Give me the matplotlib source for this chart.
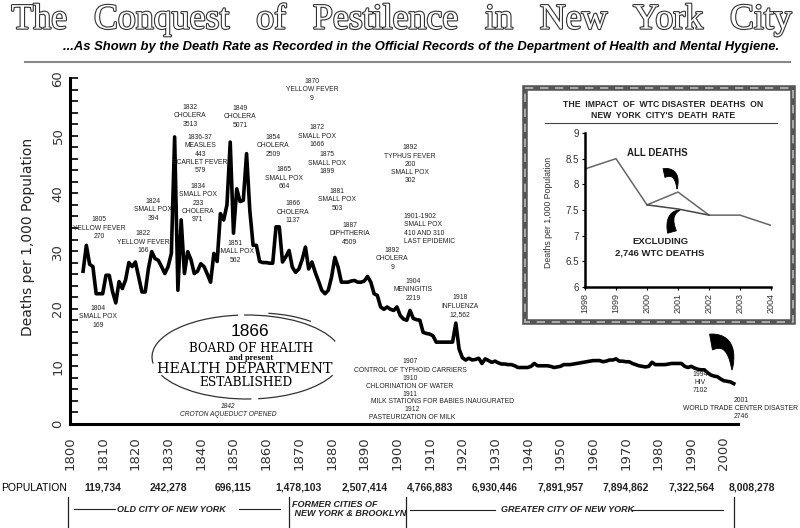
import matplotlib
matplotlib.use('Agg')
import numpy as np
import matplotlib.pyplot as plt
import matplotlib.patches as mpatches
import matplotlib.patheffects as pe
from matplotlib.transforms import blended_transform_factory

plt.rcParams['font.family'] = ['Liberation Sans', 'DejaVu Sans']

# ---- data ----
years = list(range(1804, 2004))
rates = [
    26.5, 31.0, 27.7, 27.3, 22.6, 22.6,                                # 1804-09
    22.6, 25.8, 25.8, 23.0, 21.0, 24.7, 23.5, 25.0, 28.0, 27.3,        # 1810s
    28.1, 25.5, 22.9, 22.9, 27.0, 29.9, 28.7, 28.4, 27.3, 26.1,        # 1820s
    27.3, 29.6, 49.8, 23.2, 35.4, 26.1, 29.9, 28.5, 26.1, 26.5,        # 1830s
    27.8, 27.3, 26.0, 24.6, 29.6, 28.2, 36.5, 35.4, 38.0, 48.9,        # 1840s
    33.1, 40.8, 38.6, 38.8, 46.9, 37.0, 31.0, 31.0, 28.2, 28.0,        # 1850s
    28.0, 27.9, 27.9, 34.2, 34.2, 28.1, 29.0, 30.1, 27.2, 26.3,        # 1860s
    26.9, 28.5, 30.7, 26.9, 28.1, 26.3, 24.8, 23.2, 22.6, 23.2,        # 1870s
    25.5, 28.9, 27.2, 24.6, 24.6, 24.6, 24.8, 24.9, 24.6, 24.6,        # 1880s
    24.8, 25.6, 24.6, 22.6, 22.3, 20.3, 19.9, 20.3, 19.9, 19.7,        # 1890s
    20.3, 18.8, 18.2, 18.0, 19.7, 18.3, 18.1, 18.0, 15.9, 15.7,        # 1900s
    15.6, 15.3, 14.2, 14.2, 14.2, 14.2, 14.2, 14.2, 17.5, 13.0,        # 1910s
    11.5, 11.1, 11.4, 11.1, 11.2, 11.4, 10.5, 11.3, 11.0, 10.7,        # 1920s
    10.9, 10.6, 10.4, 10.4, 10.3, 10.3, 10.1, 9.8, 9.8, 9.8,           # 1930s
    9.8, 10.0, 10.5, 10.1, 10.1, 10.1, 10.1, 10.0, 9.8, 9.9,           # 1940s
    10.0, 10.3, 10.3, 10.3, 10.4, 10.5, 10.6, 10.7, 10.8, 10.9,        # 1950s
    11.0, 11.0, 11.0, 10.8, 10.9, 11.1, 11.1, 11.3, 10.9, 10.9,        # 1960s
    10.8, 10.8, 10.5, 10.3, 10.1, 10.0, 9.9, 10.0, 10.7, 10.3,         # 1970s
    10.3, 10.3, 10.3, 10.4, 10.5, 10.5, 10.5, 10.5, 10.0, 9.8,         # 1980s
    10.0, 9.7, 9.5, 9.4, 9.4, 8.9, 8.5, 8.3, 8.2, 7.8,                 # 1990s
    7.5, 7.4, 7.3, 7.0,                                                # 2000s
]

tick_years = list(range(1800, 2001, 10))

pop_years = [1810, 1830, 1850, 1870, 1890, 1910, 1930, 1950, 1970, 1990, 2000]
pop_values = ['119,734', '242,278', '696,115', '1,478,103', '2,507,414',
              '4,766,883', '6,930,446', '7,891,957', '7,894,862', '7,322,564',
              '8,008,278']

events = [
    '1805\nYELLOW FEVER\n270',
    '1804\nSMALL POX\n169',
    '1822\nYELLOW FEVER\n166',
    '1824\nSMALL POX\n394',
    '1832\nCHOLERA\n3513',
    '1836-37\nMEASLES\n443\nSCARLET FEVER\n579',
    '1834\nSMALL POX\n233\nCHOLERA\n971',
    '1849\nCHOLERA\n5071',
    '1851\nSMALL POX\n562',
    '1854\nCHOLERA\n2509',
    '1865\nSMALL POX\n664',
    '1866\nCHOLERA\n1137',
    '1870\nYELLOW FEVER\n9',
    '1872\nSMALL POX\n1666',
    '1875\nSMALL POX\n1899',
    '1881\nSMALL POX\n503',
    '1887\nDIPHTHERIA\n4509',
    '1892\nTYPHUS FEVER\n200\nSMALL POX\n302',
    '1892\nCHOLERA\n9',
    '1904\nMENINGITIS\n2219',
    '1918\nINFLUENZA\n12,562',
    '1907\nCONTROL OF TYPHOID CARRIERS\n1910\nCHLORINATION OF WATER\n1911',
    'MILK STATIONS FOR BABIES INAUGURATED',
    '1912\nPASTEURIZATION OF MILK',
    '1994\nHIV\n7102',
    '2001\nWORLD TRADE CENTER DISASTER\n2746',
]
# label anchor (top centre) in data units
event_pos = [
    (1808.9, 36.0), (1808.6, 20.6), (1822.3, 33.6), (1825.4, 39.2),
    (1836.7, 55.5), (1839.8, 50.3), (1839.1, 41.8), (1852.0, 55.3),
    (1850.5, 31.9), (1862.1, 50.3), (1865.4, 44.7), (1868.2, 38.8),
    (1874.0, 60.0), (1875.5, 52.0), (1878.6, 47.3), (1881.7, 40.9),
    (1885.6, 35.0), (1904.0, 48.5), (1898.5, 30.7), (1904.9, 25.3),
    (1919.3, 22.5), (1904.0, 11.4), (1913.8, 4.5), (1904.6, 3.1),
    (1992.7, 9.2), (2005.2, 4.7),
]

# inset: WTC impact
wtc_years = [1998, 1999, 2000, 2001, 2002, 2003, 2004]
wtc_all = [8.3, 8.5, 7.6, 7.85, 7.4, 7.4, 7.2]
wtc_excl_years = [2000, 2001, 2002]
wtc_excl = [7.6, 7.52, 7.4]

# ---- figure ----
fig = plt.figure(figsize=(8, 5.28), dpi=100)

ax = fig.add_axes([0.0875, 0.197, 0.835, 0.655])
ax.plot(years, rates, color='black', lw=2.6, solid_joinstyle='round', zorder=3)
ax.set_xlim(1800, 2004.3)
ax.set_ylim(0, 60)
for s in ['top', 'right']:
    ax.spines[s].set_visible(False)
for s in ['left', 'bottom']:
    ax.spines[s].set_linewidth(2.2)
ax.set_xticks(tick_years)
ax.set_xticklabels([str(y) for y in tick_years], rotation=90, fontsize=9.5,
                   color='#333', family='DejaVu Sans')
ax.tick_params(axis='x', length=0, pad=9)
ax.set_yticks(range(0, 61, 10))
ax.set_yticks(range(0, 61, 2), minor=True)
ax.tick_params(axis='y', which='both', direction='in', length=6, width=1.2)
ax.tick_params(axis='y', labelsize=9.5, labelcolor='#333', pad=4)
for t in ax.get_yticklabels():
    t.set_rotation(90)
    t.set_va('center')
    t.set_family('DejaVu Sans')
ax.set_ylabel('Deaths per 1,000 Population', fontsize=10, color='#222',
              family='DejaVu Sans')
ax.yaxis.set_label_coords(-0.052, 0.54)

small = ['Liberation Sans Narrow', 'Liberation Sans']
for txt, (x, y) in zip(events, event_pos):
    ax.text(x, y, txt, ha='center', va='top', fontsize=4.9, color='#222',
            family=small, linespacing=1.25, clip_on=False, zorder=4)
ax.text(1902.1, 36.6, '1901-1902\nSMALL POX\n410 AND 310\nLAST EPIDEMIC',
        ha='left', va='top', fontsize=4.9, color='#222', family=small,
        linespacing=1.25, multialignment='left')
ax.text(1848.3, 3.6, '1842\nCROTON AQUEDUCT OPENED', ha='center', va='top',
        fontsize=4.8, style='italic', color='#222', family=small,
        linespacing=1.25)

# population row
tr = blended_transform_factory(ax.transData, fig.transFigure)
fig.text(0.002, 0.0758, 'POPULATION', fontsize=7.5, va='center', ha='left')
for i, (yr, pv) in enumerate(zip(pop_years, pop_values)):
    xpos = yr if i < len(pop_years) - 1 else yr + 8.6
    ax.text(xpos, 0.0758, pv, transform=tr, ha='center', va='center',
            fontsize=7.5, fontweight='bold', color='#222')

# ---- overlay for decorations (pixel coordinates) ----
ov = fig.add_axes([0, 0, 1, 1], zorder=2)
ov.set_xlim(0, 800)
ov.set_ylim(528, 0)
ov.axis('off')


def swoosh(p0, p1, p2, w0):
    # tapered curved arrow: wide at p0, pointed at p2
    t = np.linspace(0, 1, 50)[:, None]
    P0, P1, P2 = np.array(p0, float), np.array(p1, float), np.array(p2, float)
    pts = (1 - t) ** 2 * P0 + 2 * (1 - t) * t * P1 + t ** 2 * P2
    d = 2 * (1 - t) * (P1 - P0) + 2 * t * (P2 - P1)
    n = np.column_stack([-d[:, 1], d[:, 0]]) / np.linalg.norm(d, axis=1)[:, None]
    w = w0 * (1 - t[:, 0]) ** 0.75 / 2
    poly = np.vstack([pts + n * w[:, None], (pts - n * w[:, None])[::-1]])
    ov.add_patch(mpatches.Polygon(poly, closed=True, fc='black', ec='black',
                                  lw=0.6, joinstyle='round'))


fig.text(0.503, 0.962,
         'The   Conquest   of   Pestilence   in   New   York   City',
         ha='center', va='center', fontsize=25.8, family='Liberation Serif',
         color='white',
         path_effects=[pe.withStroke(linewidth=1.6, foreground='#333')])
fig.text(0.526, 0.911,
         '...As Shown by the Death Rate as Recorded in the Official Records '
         'of the Department of Health and Mental Hygiene.',
         ha='center', va='center', fontsize=9.4, style='italic',
         fontweight='bold', family=['Liberation Sans Narrow', 'Liberation Sans'])
ov.plot([25, 790], [62, 62], color='#888', lw=1.5)

# board of health cloud
for (cx, cy, w, h, t1, t2) in [(247, 357, 190, 84, 12, 75), (247, 357, 190, 84, 84, 168),
                               (247, 357, 190, 84, 176, 258), (247, 357, 190, 84, 266, 350),
                               (258, 352, 170, 78, 285, 330)]:
    ov.add_patch(mpatches.Arc((cx, cy), w, h, theta1=t1, theta2=t2,
                              color='#333', lw=0.9))
ov.text(250, 332, '1866', ha='center', va='center', fontsize=12.5,
        family='Liberation Sans')
ov.text(251, 348.5, 'BOARD OF HEALTH', ha='center', va='center', fontsize=8.6,
        family='DejaVu Serif')
ov.text(251, 358.5, 'and present', ha='center', va='center', fontsize=4.8,
        family='DejaVu Serif', fontweight='bold')
ov.text(245, 369, 'HEALTH DEPARTMENT', ha='center', va='center', fontsize=10.3,
        family='DejaVu Serif')
ov.text(246, 382, 'ESTABLISHED', ha='center', va='center', fontsize=8.8,
        family='DejaVu Serif')

# main curved arrow toward 2001
swoosh((711, 342), (733, 338), (732, 370), 16)

# bottom brackets
for x in [68, 289, 406, 734]:
    ov.plot([x, x], [497, 528], color='#222', lw=0.9)
ov.plot([74, 115], [509, 509], color='#222', lw=0.8)
ov.plot([239, 280], [509, 509], color='#222', lw=0.8)
ov.plot([410, 495], [510, 510], color='#222', lw=0.8)
ov.plot([631, 723], [510, 510], color='#222', lw=0.8)
ov.text(171, 509, 'OLD CITY OF NEW YORK', ha='center', va='center',
        fontsize=6.5, style='italic', fontweight='bold', color='#222')
ov.text(292, 509, 'FORMER CITIES OF\n NEW YORK & BROOKLYN', ha='left',
        va='center', fontsize=6.5, style='italic', fontweight='bold',
        color='#222', linespacing=1.1)
ov.text(568, 510, 'GREATER CITY OF NEW YORK', ha='center', va='center',
        fontsize=6.5, style='italic', fontweight='bold', color='#222')

# inset frame
ov.add_patch(mpatches.Rectangle((525, 88), 268, 234, fc='white', ec='#555', lw=4))
ov.add_patch(mpatches.Rectangle((525, 88), 268, 234, fc='none', ec='#bbb',
                                lw=1.2, ls=(0, (5, 4))))
ov.text(663, 110, "THE  IMPACT  OF  WTC DISASTER  DEATHS  ON\n"
        "NEW  YORK  CITY'S  DEATH  RATE", ha='center', va='center',
        fontsize=6.2, fontweight='bold', color='#222', linespacing=1.4)
ov.plot([545, 777], [123, 123], color='#444', lw=0.8)
ov.text(657, 153, 'ALL DEATHS', ha='center', va='center', fontsize=7,
        fontweight='bold', color='#222')
ov.text(660, 247, 'EXCLUDING\n2,746 WTC DEATHS', ha='center', va='center',
        fontsize=6.8, fontweight='bold', color='#222', linespacing=1.3)
swoosh((664, 173), (678, 170), (677, 189), 9)
swoosh((672, 232), (667, 214), (680, 210), 9)

ins = fig.add_axes([0.73125, 0.45644, 0.2325, 0.29167], zorder=4)
ins.patch.set_alpha(0)
ins.plot(wtc_years, wtc_all, color='#666', lw=1.1)
ins.plot(wtc_excl_years, wtc_excl, color='#444', lw=1.1)
ins.set_xlim(1998, 2004)
ins.set_ylim(6, 9)
ins.set_xticks(wtc_years)
ins.set_xticklabels([str(y) for y in wtc_years], rotation=90, fontsize=6.5,
                    color='#333')
ins.set_yticks([6, 6.5, 7, 7.5, 8, 8.5, 9])
ins.set_yticklabels(['6', '6.5', '7', '7.5', '8', '8.5', '9'], fontsize=7,
                    color='#333')
ins.tick_params(length=2.5, width=0.8, pad=2)
for s in ['top', 'right']:
    ins.spines[s].set_visible(False)
for s in ['left', 'bottom']:
    ins.spines[s].set_linewidth(1.8)
ins.set_ylabel('Deaths per 1,000 Population', fontsize=6.3, color='#333')
ins.yaxis.set_label_coords(-0.172, 0.487)

fig.savefig('out.png', dpi=100)
